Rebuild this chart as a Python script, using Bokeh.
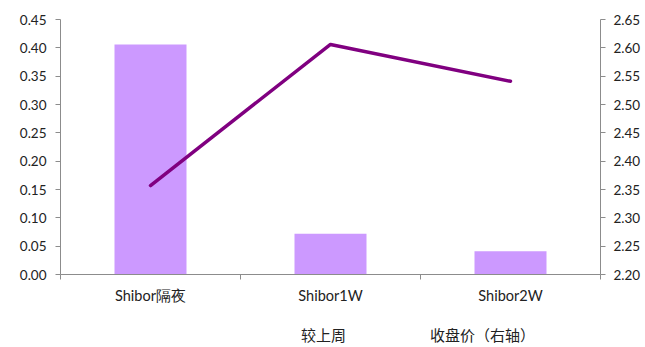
from bokeh.plotting import figure
from bokeh.layouts import column
from bokeh.models import (Range1d, LinearAxis, FixedTicker, FactorRange, CategoricalAxis,
                          Legend, LegendItem, ColumnDataSource, NumeralTickFormatter)
from bokeh.embed import file_html
from bokeh.resources import INLINE

categories = ["Shibor隔夜", "Shibor1W", "Shibor2W"]
weekly_change = [0.406, 0.072, 0.041]
close_price = [2.357, 2.606, 2.541]
left_ticks = [0.0, 0.05, 0.10, 0.15, 0.20, 0.25, 0.30, 0.35, 0.40, 0.45]
right_ticks = [2.20, 2.25, 2.30, 2.35, 2.40, 2.45, 2.50, 2.55, 2.60, 2.65]
series_names = ["较上周", "收盘价（右轴）"]

FONT = "Lato"
AXIS_COLOR = "#8c8c8c"
TEXT_COLOR = "#222222"
BAR_COLOR = "#CC99FF"
LINE_COLOR = "#800080"

src = ColumnDataSource(dict(cat=categories, chg=weekly_change, px=close_price))

p = figure(frame_width=540, frame_height=255, x_range=FactorRange(*categories, range_padding=0),
           y_range=Range1d(0, 0.45), output_backend="svg", toolbar_location=None,
           x_axis_location=None, y_axis_location=None,
           min_border_left=60, min_border_right=45, min_border_top=19, min_border_bottom=49)
p.outline_line_color = None
p.grid.visible = False
p.background_fill_color = "white"

p.extra_y_ranges = {"right": Range1d(2.20, 2.65)}

p.vbar(x="cat", top="chg", width=0.4, source=src, fill_color=BAR_COLOR, line_color=None)
p.line(x="cat", y="px", source=src, y_range_name="right", line_color=LINE_COLOR,
       line_width=3.5, line_cap="round", line_join="round")

def style(ax):
    ax.axis_line_color = AXIS_COLOR
    ax.major_tick_line_color = AXIS_COLOR
    ax.minor_tick_line_color = None
    ax.major_tick_in = 0
    ax.major_tick_out = 5
    ax.major_label_text_font = FONT
    ax.major_label_text_font_size = "13.5px"
    ax.major_label_text_color = TEXT_COLOR

left = LinearAxis(ticker=FixedTicker(ticks=left_ticks), formatter=NumeralTickFormatter(format="0.00"))
style(left)
left.major_label_standoff = 9
p.add_layout(left, "left")

right = LinearAxis(y_range_name="right", ticker=FixedTicker(ticks=right_ticks),
                   formatter=NumeralTickFormatter(format="0.00"))
style(right)
right.major_label_standoff = 8
p.add_layout(right, "right")

# boundary ticks between categories (synthetic coordinates 0..n)
tick_axis = LinearAxis(ticker=FixedTicker(ticks=list(range(len(categories) + 1))))
style(tick_axis)
tick_axis.major_label_text_font_size = "0px"
tick_axis.major_label_text_alpha = 0
tick_axis.major_label_standoff = 0
p.add_layout(tick_axis, "below")

cat_axis = CategoricalAxis()
style(cat_axis)
cat_axis.axis_line_color = None
cat_axis.major_tick_line_color = None
cat_axis.major_tick_out = 0
cat_axis.major_label_standoff = 7
cat_axis.major_label_text_font_size = "14.5px"
p.add_layout(cat_axis, "below")

# legend strip below the chart
lg = figure(width=645, height=24, x_range=Range1d(0, 1), y_range=Range1d(0, 1),
            output_backend="svg", toolbar_location=None,
            x_axis_location=None, y_axis_location=None,
            min_border_left=0, min_border_right=0, min_border_top=0, min_border_bottom=0)
lg.outline_line_color = None
lg.grid.visible = False
lg_bar = lg.vbar(x=[], top=[], width=0.4, fill_color=BAR_COLOR, line_color=None)
lg_line = lg.line(x=[], y=[], line_color=LINE_COLOR, line_width=3.5)

legend = Legend(items=[LegendItem(label=series_names[0], renderers=[lg_bar]),
                       LegendItem(label=series_names[1], renderers=[lg_line])],
                orientation="horizontal", location=(184, 2),
                label_text_font="Noto Sans CJK SC", label_text_font_size="15px",
                label_text_color=TEXT_COLOR, glyph_width=52, glyph_height=7,
                label_height=15, spacing=27, border_line_color=None, background_fill_alpha=0,
                padding=0, margin=0, label_standoff=5)
lg.add_layout(legend, "center")

layout = column(p, lg, spacing=0)
open("out.html", "w").write(file_html(layout, INLINE))
